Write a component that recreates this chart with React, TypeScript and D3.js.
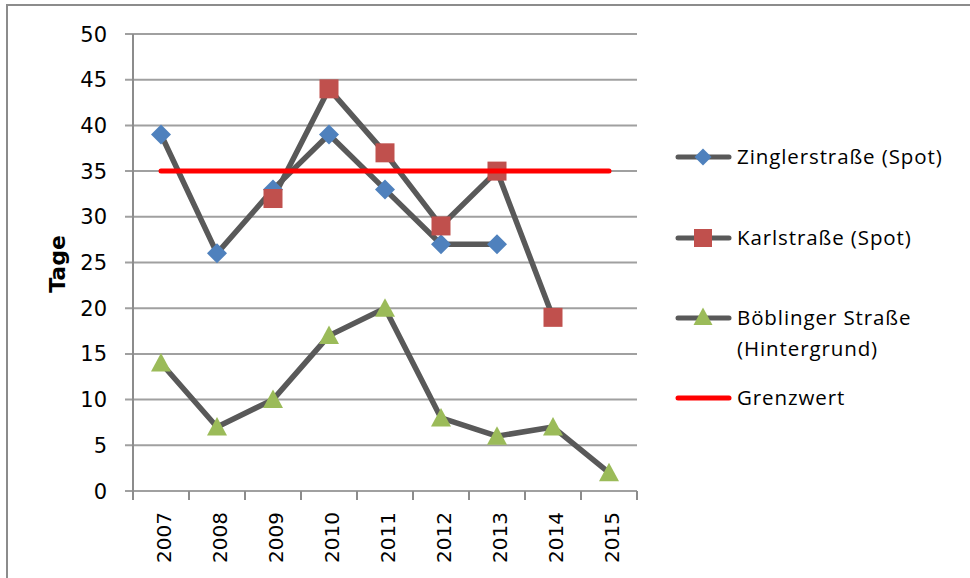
import React from "react";
import * as d3 from "d3";

const years = ["2007", "2008", "2009", "2010", "2011", "2012", "2013", "2014", "2015"];
const zingler: (number | null)[] = [39, 26, 33, 39, 33, 27, 27, null, null];
const karl: (number | null)[] = [null, null, 32, 44, 37, 29, 35, 19, null];
const boeblingen: (number | null)[] = [14, 7, 10, 17, 20, 8, 6, 7, 2];
const grenzwert: (number | null)[] = [35, 35, 35, 35, 35, 35, 35, 35, 35];
const yTicks = [0, 5, 10, 15, 20, 25, 30, 35, 40, 45, 50];

const W = 970, H = 578;
const left = 133, right = 637, top = 34, bottom = 491;

export default function App() {
  const x = d3.scaleBand<string>().domain(years).range([left, right]);
  const y = d3.scaleLinear().domain([0, 50]).range([bottom, top]);
  const cx = (i: number) => (x(years[i]) as number) + x.bandwidth() / 2;
  const line = d3
    .line<number | null>()
    .defined((d) => d != null)
    .x((_, i) => cx(i))
    .y((d) => y(d as number));

  const lineColor = "#595959";
  const font = "'Open Sans', 'DejaVu Sans', sans-serif";
  const numFont = "'DejaVu Sans', sans-serif";
  const diamond = (px: number, py: number, s: number) =>
    `M${px},${py - s}L${px + s},${py}L${px},${py + s}L${px - s},${py}Z`;
  const triangle = (px: number, py: number, s: number) =>
    `M${px},${py - s}L${px + s},${py + s * 0.85}L${px - s},${py + s * 0.85}Z`;

  const legend = [
    { label: ["Zinglerstraße (Spot)"], y: 157, type: "diamond" },
    { label: ["Karlstraße (Spot)"], y: 238, type: "square" },
    { label: ["Böblinger Straße", "(Hintergrund)"], y: 318, type: "triangle" },
    { label: ["Grenzwert"], y: 398, type: "red" },
  ];

  return (
    <svg width={W} height={H} style={{ position: "absolute", left: 0, top: 0, background: "#fff" }}>
      <rect x={7} y={5} width={980} height={600} fill="#fff" stroke="#8c8c8c" strokeWidth={2} />
      {yTicks.map((t) => (
        <g key={t}>
          <line x1={125} x2={right} y1={y(t)} y2={y(t)} stroke="#a0a0a0" strokeWidth={2} />
          <text x={107} y={y(t)} dy="0.36em" textAnchor="end" fontFamily={numFont} fontSize={21} fill="#000">
            {t}
          </text>
        </g>
      ))}
      <line x1={left} x2={left} y1={top} y2={bottom + 9} stroke="#8c8c8c" strokeWidth={2} />
      {years.concat(["end"]).map((_, i) => {
        const px = left + i * x.bandwidth();
        return <line key={i} x1={px} x2={px} y1={bottom} y2={bottom + 9} stroke="#8c8c8c" strokeWidth={2} />;
      })}
      {years.map((yr, i) => (
        <text
          key={yr}
          transform={`translate(${cx(i) + 10},${512}) rotate(-90)`}
          textAnchor="end"
          fontFamily={numFont}
          fontSize={20}
          fill="#000"
        >
          {yr}
        </text>
      ))}
      <text
        transform={`translate(${65},${264}) rotate(-90)`}
        textAnchor="middle"
        fontFamily={numFont}
        fontWeight="bold"
        fontSize={22}
        fill="#000"
      >
        Tage
      </text>
      <path d={line(boeblingen) || ""} fill="none" stroke={lineColor} strokeWidth={5.5} strokeLinejoin="round" />
      <path d={line(zingler) || ""} fill="none" stroke={lineColor} strokeWidth={5.5} strokeLinejoin="round" />
      <path d={line(karl) || ""} fill="none" stroke={lineColor} strokeWidth={5.5} strokeLinejoin="round" />
      {boeblingen.map((v, i) =>
        v == null ? null : <path key={"b" + i} d={triangle(cx(i), y(v), 10)} fill="#9BBB59" />
      )}
      {zingler.map((v, i) =>
        v == null ? null : <path key={"z" + i} d={diamond(cx(i), y(v), 10)} fill="#4F81BD" />
      )}
      {karl.map((v, i) =>
        v == null ? null : (
          <rect key={"k" + i} x={cx(i) - 9.5} y={y(v) - 9.5} width={19} height={19} fill="#C0504D" />
        )
      )}
      <path d={line(grenzwert) || ""} fill="none" stroke="#FF0000" strokeWidth={5} strokeLinecap="round" />
      {legend.map((l) => (
        <g key={l.type}>
          <line
            x1={678}
            x2={729}
            y1={l.y}
            y2={l.y}
            stroke={l.type === "red" ? "#FF0000" : lineColor}
            strokeWidth={5}
            strokeLinecap="round"
          />
          {l.type === "diamond" && <path d={diamond(703, l.y, 8.5)} fill="#4F81BD" />}
          {l.type === "square" && <rect x={694} y={l.y - 9} width={18} height={18} fill="#C0504D" />}
          {l.type === "triangle" && <path d={triangle(703, l.y - 1, 9.5)} fill="#9BBB59" />}
          {l.label.map((s, j) => (
            <text
              key={j}
              x={737}
              y={l.y + j * 31}
              dy="0.36em"
              fontFamily={font}
              fontSize={20.5}
              letterSpacing={0.9}
              fill="#000"
            >
              {s}
            </text>
          ))}
        </g>
      ))}
    </svg>
  );
}
